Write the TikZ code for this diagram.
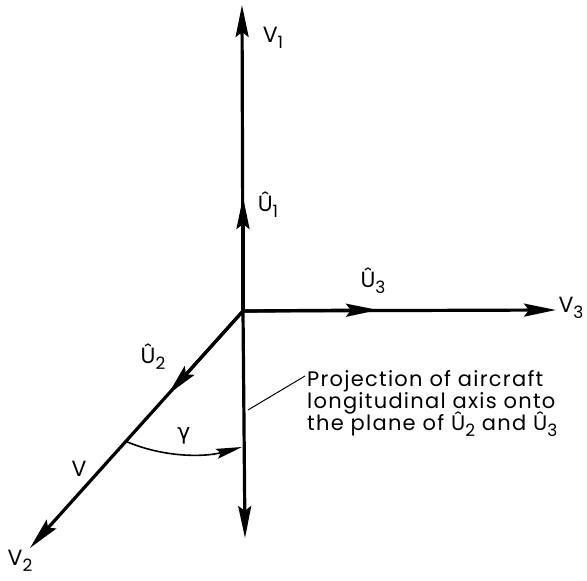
\documentclass[tikz,border=0pt]{standalone}
\usepackage{fontspec}
\setmainfont{Poppins}[LetterSpace=6]
\newfontfamily\gk{DejaVu Sans}
\usetikzlibrary{arrows.meta,calc}
\newcommand\sbs[1]{\raisebox{-6pt}{\fontsize{17}{17}\selectfont#1}}
\begin{document}
\begin{tikzpicture}[x=1pt,y=-1pt,
  axis/.style={line width=3.2pt},
  bigtip/.style={-{Stealth[length=32pt,width=13pt,inset=5pt]}},
  lbl/.style={inner sep=0pt,font=\fontsize{22}{24}\selectfont},
  txt/.style={inner sep=0pt,anchor=base west,font=\fontsize{21}{22}\selectfont}]
\useasboundingbox (0,0) rectangle (587,581);
% points
\coordinate (O) at (243,311);
\coordinate (top) at (242,5);
\coordinate (right) at (556,310);
\coordinate (bottom) at (245,538);
\coordinate (V2tip) at (30,548);
\coordinate (U1tip) at (243,197);
\coordinate (U3tip) at (378,310);
\coordinate (U2tip) at ($(O)!0.352!(V2tip)$);
\coordinate (gstart) at ($(O)!0.55!(V2tip)$);
\coordinate (gend) at (242,447);
\coordinate (lead) at (248,410);
% axes
\draw[axis,bigtip] (O) -- (top);
\draw[axis,bigtip] (O) -- (U1tip);
\draw[axis,bigtip] (O) -- (right);
\draw[axis,bigtip] (O) -- (U3tip);
\draw[axis,bigtip] (O) -- (bottom);
\draw[axis,bigtip] (O) -- (V2tip);
\draw[axis,bigtip] (O) -- (U2tip);
% gamma arc
\draw[line width=1.6pt,-{Stealth[length=26pt,width=10pt,inset=4pt]}]
  (gstart) .. controls (165,458) and (205,457) .. (gend);
% labels
\node[lbl] (v1) at (273,38) {V\sbs{1}};
\node[lbl] (u1) at (268,205) {Û\sbs{1}};
\node[lbl] (u3) at (373,281) {Û\sbs{3}};
\node[lbl] (v3) at (571,308) {V\sbs{3}};
\node[lbl] (u2) at (153,357) {Û\sbs{2}};
\node[lbl] (v) at (79,469) {V};
\node[lbl] (g) at (184,436) {\gk γ};
\node[lbl] (v2) at (20,561) {V\sbs{2}};
% text
\node[txt] (p1) at (307,386) {Projection of aircraft};
\node[txt] (p2) at (307,408) {longitudinal axis onto};
\node[txt] (p3) at (307,430) {the plane of Û\sbs{2} and Û\sbs{3}};
\draw[line width=1pt] (lead) -- ($(p1.base west)+(-2,-10)$);
\end{tikzpicture}
\end{document}
